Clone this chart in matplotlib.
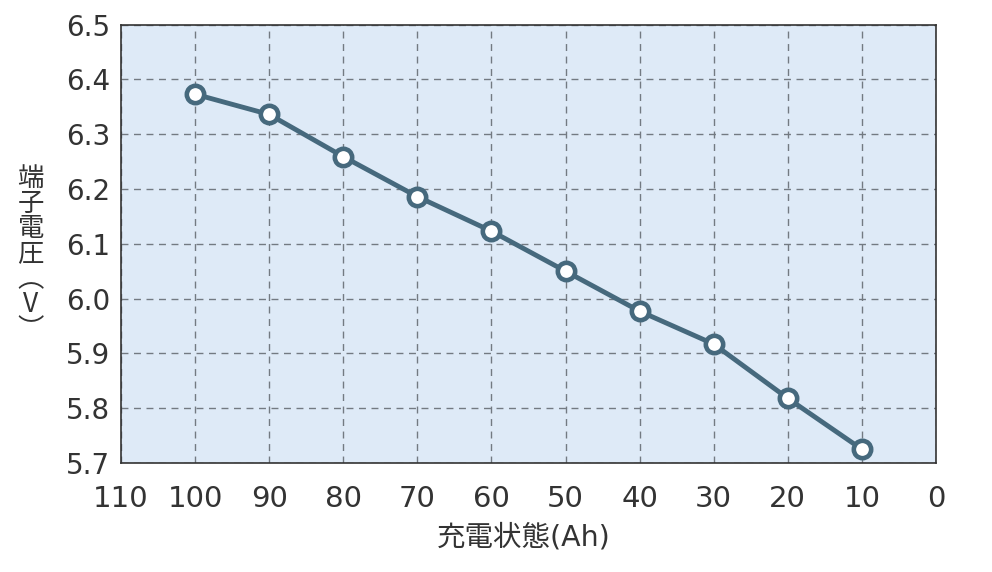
import matplotlib.pyplot as plt

plt.rcParams["font.family"] = ["DejaVu Sans", "Noto Sans CJK JP"]

charge_ah = [100, 90, 80, 70, 60, 50, 40, 30, 20, 10]
voltage = [6.373, 6.336, 6.259, 6.186, 6.123, 6.050, 5.977, 5.917, 5.818, 5.725]
x_ticks = [110, 100, 90, 80, 70, 60, 50, 40, 30, 20, 10, 0]
y_ticks = [5.7, 5.8, 5.9, 6.0, 6.1, 6.2, 6.3, 6.4, 6.5]

line_color = "#46697d"
text_color = "#333333"

fig = plt.figure(figsize=(9.92, 5.72), dpi=100)
ax = fig.add_axes([0.122, 0.1906, 0.8215, 0.7664])
ax.set_facecolor("#deeaf7")

ax.plot(
    charge_ah,
    voltage,
    color=line_color,
    lw=3.5,
    marker="o",
    ms=12.5,
    mfc="white",
    mec=line_color,
    mew=3.3,
    zorder=3,
)

ax.set_xlim(110, 0)
ax.set_ylim(5.7, 6.5)
ax.set_xticks(x_ticks)
ax.set_yticks(y_ticks)
ax.set_yticklabels([f"{v:.1f}" for v in y_ticks])
ax.tick_params(axis="both", length=0, labelsize=20, colors=text_color)
ax.tick_params(axis="x", labelsize=21, pad=16)
ax.tick_params(axis="y", pad=8)
ax.grid(True, color="#737a82", linestyle=(0, (5, 4)), linewidth=1.0)
ax.set_axisbelow(True)
for sp in ax.spines.values():
    sp.set_color(text_color)
    sp.set_linewidth(1.2)

fig.text(0.528, 0.061, "充電状態(Ah)", ha="center", va="center", fontsize=20.5, color=text_color)
fig.text(
    0.031,
    0.556,
    "端\n子\n電\n圧\n︵\nV\n︶",
    ha="center",
    va="center",
    fontsize=19,
    color=text_color,
    linespacing=0.92,
    family=["Noto Sans CJK JP", "DejaVu Sans"],
)

fig.savefig("out.png", dpi=100)
